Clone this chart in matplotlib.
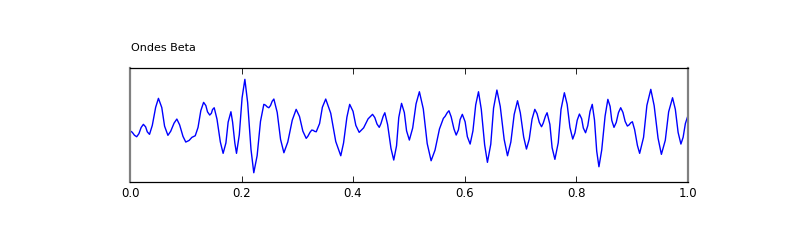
import numpy as np
import matplotlib
matplotlib.use("Agg")
import matplotlib.pyplot as plt

# ============== data ==============
# time (s) and amplitude (arbitrary units) of the beta wave
t = [0.000, 0.004, 0.008, 0.012, 0.016, 0.020, 0.024, 0.028, 0.031, 0.035,
     0.040, 0.046, 0.051, 0.057, 0.062, 0.068, 0.073, 0.079, 0.084, 0.089,
     0.095, 0.100, 0.106, 0.111, 0.117, 0.122, 0.127, 0.132, 0.136, 0.139,
     0.143, 0.146, 0.148, 0.151, 0.156, 0.162, 0.167, 0.172, 0.176, 0.181,
     0.184, 0.188, 0.191, 0.196, 0.201, 0.206, 0.211, 0.217, 0.222, 0.228,
     0.234, 0.240, 0.243, 0.246, 0.249, 0.252, 0.255, 0.258, 0.264, 0.270,
     0.276, 0.283, 0.291, 0.298, 0.304, 0.310, 0.316, 0.319, 0.323, 0.326,
     0.329, 0.331, 0.334, 0.340, 0.345, 0.351, 0.360, 0.369, 0.378, 0.383,
     0.389, 0.394, 0.400, 0.405, 0.411, 0.419, 0.427, 0.435, 0.439, 0.443,
     0.447, 0.450, 0.454, 0.457, 0.462, 0.468, 0.473, 0.478, 0.482, 0.487,
     0.492, 0.496, 0.501, 0.507, 0.513, 0.519, 0.526, 0.533, 0.540, 0.547,
     0.555, 0.562, 0.565, 0.569, 0.572, 0.576, 0.581, 0.585, 0.589, 0.592,
     0.596, 0.601, 0.605, 0.610, 0.615, 0.620, 0.625, 0.630, 0.636, 0.641,
     0.647, 0.652, 0.658, 0.664, 0.671, 0.677, 0.683, 0.689, 0.695, 0.700,
     0.706, 0.711, 0.716, 0.721, 0.726, 0.730, 0.734, 0.738, 0.741, 0.745,
     0.748, 0.753, 0.757, 0.762, 0.768, 0.773, 0.779, 0.784, 0.789, 0.794,
     0.798, 0.802, 0.806, 0.810, 0.813, 0.817, 0.821, 0.825, 0.829, 0.833,
     0.837, 0.841, 0.846, 0.852, 0.857, 0.861, 0.864, 0.868, 0.872, 0.876,
     0.880, 0.884, 0.888, 0.892, 0.895, 0.898, 0.901, 0.905, 0.910, 0.914,
     0.921, 0.927, 0.934, 0.940, 0.947, 0.953, 0.960, 0.966, 0.973, 0.978,
     0.983, 0.988, 0.992, 0.996, 1.000]

beta = [-6.0, -7.5, -10.5, -12.0, -8.9, -2.7, 0.4, -2.1, -7.1, -9.6,
        -0.6, 17.4, 26.4, 17.2, -1.4, -10.6, -6.5, 1.6, 5.7, -0.1,
        -11.6, -17.3, -15.7, -12.6, -11.0, -2.7, 14.1, 22.4, 19.2, 12.9,
        9.7, 11.5, 15.2, 17.0, 5.6, -17.2, -28.6, -18.2, 2.6, 13.0,
        2.6, -18.2, -28.6, -10.1, 26.9, 45.4, 22.1, -24.7, -48.0, -30.9,
        3.3, 20.4, 19.6, 17.9, 17.0, 19.2, 23.5, 25.7, 12.3, -14.6,
        -28.0, -17.2, 4.6, 15.4, 8.2, -6.4, -13.6, -11.5, -7.4, -5.3,
        -5.7, -6.6, -7.0, 1.2, 17.5, 25.7, 11.5, -16.8, -31.0, -18.2,
        7.6, 20.4, 13.4, -0.6, -7.6, -3.1, 5.9, 10.4, 7.2, 0.7,
        -2.6, 1.1, 8.4, 12.0, 0.2, -23.5, -35.3, -21.1, 7.2, 21.4,
        12.2, -6.1, -15.3, -3.2, 20.9, 33.0, 15.8, -18.8, -36.0, -25.4,
        -4.2, 6.4, 8.3, 12.1, 14.0, 7.9, -4.2, -10.3, -5.1, 5.2,
        10.4, 3.0, -11.9, -19.3, -6.2, 19.9, 33.0, 15.4, -20.0, -37.6,
        -19.5, 16.6, 34.7, 18.3, -14.6, -31.0, -17.3, 10.3, 24.0, 11.9,
        -12.2, -24.3, -14.4, 5.5, 15.4, 11.1, 2.4, -2.0, 1.5, 8.5,
        12.0, 0.4, -22.9, -34.6, -18.0, 15.4, 32.0, 20.4, -2.7, -14.3,
        -8.1, 4.5, 10.7, 6.0, -3.3, -8.0, -0.9, 13.3, 20.4, 4.8,
        -26.4, -42.0, -25.2, 8.6, 25.4, 18.4, 4.4, -2.6, 2.3, 12.1,
        17.0, 12.4, 3.3, -1.3, -0.2, 1.9, 3.0, -4.9, -20.7, -28.6,
        -12.6, 19.4, 35.4, 19.2, -13.4, -29.6, -15.5, 12.9, 27.0, 15.4,
        -7.7, -19.3, -12.5, 1.2, 8.0]

xticks = [0.0, 0.2, 0.4, 0.6, 0.8, 1.0]
title = "Ondes Beta"

# ============== figure ==============
fig = plt.figure(figsize=(8, 2.5), dpi=100)
ax = fig.add_axes([0.1625, 0.273, 0.697, 0.456])

ax.plot(t, beta, color="#0000ff", linewidth=1.0)

ax.set_xlim(0, 1)
ax.set_ylim(-57, 57)
ax.set_xticks(xticks)
ax.set_xticklabels(["%.1f" % v for v in xticks], fontsize=8.5)
ax.set_yticks([])
ax.tick_params(axis="x", direction="in", top=True, length=4, width=0.6,
               pad=4, colors="black")

for side in ["top", "bottom"]:
    ax.spines[side].set_linewidth(0.9)
for side in ["left", "right"]:
    ax.spines[side].set_color("#808080")
    ax.spines[side].set_linewidth(1.6)

fig.text(0.164, 0.796, title, fontsize=8, ha="left", va="baseline")

fig.savefig("out.png", dpi=100)
